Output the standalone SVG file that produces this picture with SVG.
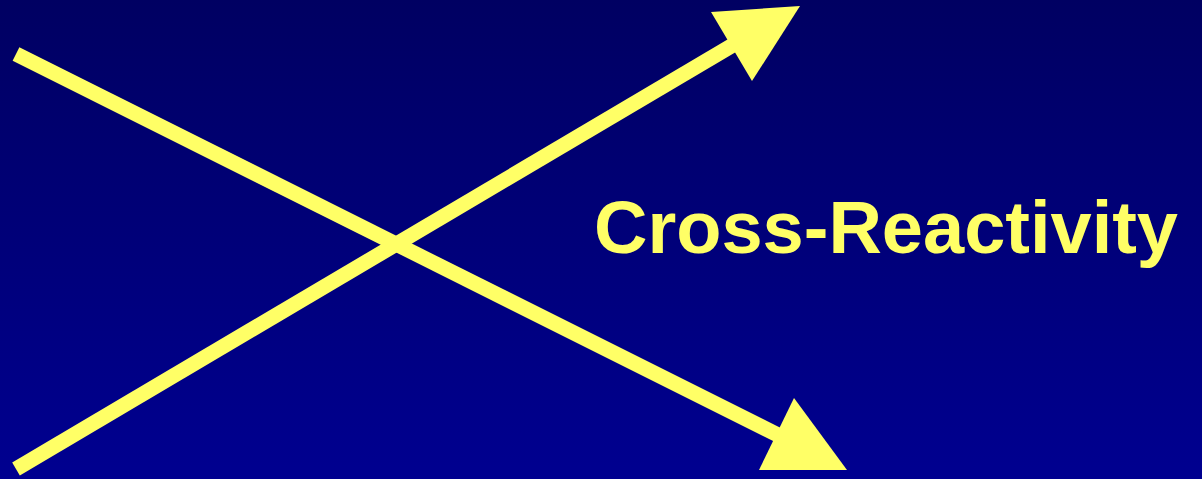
<svg xmlns="http://www.w3.org/2000/svg" width="1202" height="479" viewBox="0 0 1202 479">
<defs>
<linearGradient id="bg" x1="0" y1="0" x2="0" y2="1">
<stop offset="0" stop-color="#000062"/>
<stop offset="1" stop-color="#000090"/>
</linearGradient>
<style>
.shaft{stroke:#FFFF66;stroke-width:15;stroke-linecap:butt;fill:none}
.head{fill:#FFFF66}
.label{font-family:"Liberation Sans",Arial,sans-serif;font-weight:bold;font-size:74px;fill:#FFFF66}
</style>
</defs>
<rect x="0" y="0" width="1202" height="479" fill="url(#bg)"/>
<g id="connectors">
<line class="shaft" x1="16" y1="469" x2="733" y2="45"/>
<polygon class="head" points="711,12 800,6 752,81"/>
<line class="shaft" x1="16" y1="54" x2="778" y2="435"/>
<polygon class="head" points="794,398 847,470 759,470"/>
</g>
<g id="label">
<text class="label" x="594" y="253">Cross-Reactivity</text>
</g>
</svg>
